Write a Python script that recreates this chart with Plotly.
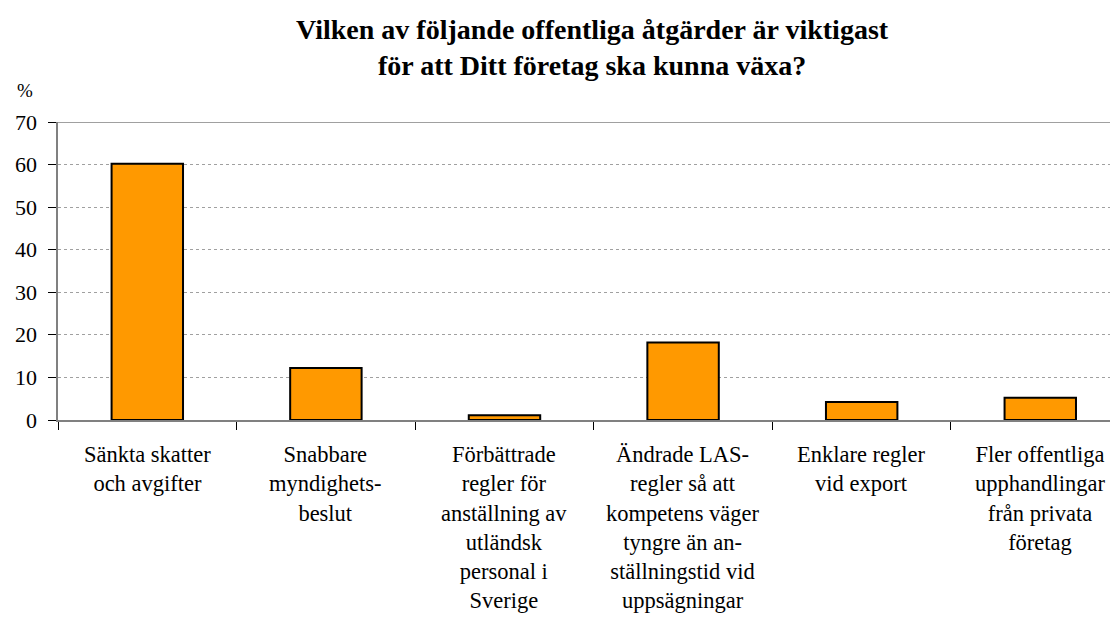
import plotly.graph_objects as go

categories = ["Sänkta skatter", "Snabbare beslut", "Förbättrade regler", "Ändrade LAS-regler", "Enklare exportregler", "Fler upphandlingar"]
tick_labels = [
    "Sänkta skatter<br>och avgifter",
    "Snabbare<br>myndighets-<br>beslut",
    "Förbättrade<br>regler för<br>anställning av<br>utländsk<br>personal i<br>Sverige",
    "Ändrade LAS-<br>regler så att<br>kompetens väger<br>tyngre än an-<br>ställningstid vid<br>uppsägningar",
    "Enklare regler<br>vid export",
    "Fler offentliga<br>upphandlingar<br>från privata<br>företag",
]
values = [60.2, 12.2, 1.1, 18.2, 4.2, 5.2]
y_ticks = [0, 10, 20, 30, 40, 50, 60, 70]
title_text = "<b>Vilken av följande offentliga åtgärder är viktigast<br>för att Ditt företag ska kunna växa?</b>"
unit_text = "%"

FONT = "Liberation Serif"

fig = go.Figure()
fig.add_trace(go.Bar(
    x=categories, y=values, width=0.4,
    marker=dict(color="#FF9900", line=dict(color="black", width=2)),
    hoverinfo="x+y",
))

annotations = []
annotations.append(dict(
    text=title_text, xref="paper", yref="paper", x=0.5, y=1.25,
    xanchor="center", yanchor="middle", showarrow=False, align="center",
    font=dict(family=FONT, size=28, color="black"),
))
annotations.append(dict(
    text=unit_text, xref="paper", yref="paper", x=-0.04, y=1.065,
    xanchor="left", yanchor="bottom", showarrow=False,
    font=dict(family=FONT, size=19, color="black"),
))
for v in y_ticks:
    annotations.append(dict(
        text=str(v), x=0, y=v, xref="paper", yref="y",
        xanchor="right", yanchor="middle", xshift=-19, showarrow=False,
        font=dict(family=FONT, size=22, color="black"),
    ))
for cat, lab in zip(categories, tick_labels):
    annotations.append(dict(
        text=lab, x=cat, y=0, xref="x", yref="y",
        xanchor="center", yanchor="top", yshift=-20, showarrow=False, align="center",
        font=dict(family=FONT, size=22.5, color="black"),
    ))

fig.update_layout(
    width=1118, height=630,
    margin=dict(l=50, r=0, t=114, b=218, autoexpand=False),
    paper_bgcolor="white", plot_bgcolor="white",
    font=dict(family=FONT, color="black"),
    showlegend=False,
    annotations=annotations,
    shapes=[dict(type="line", xref="paper", yref="y", x0=0, x1=1, y0=70, y1=70,
                 line=dict(color="#808080", width=1.5))],
)

fig.update_xaxes(
    range=[-0.5, 5.48], automargin=False,
    tickmode="array", tickvals=categories, showticklabels=False,
    tickson="boundaries", ticks="outside", ticklen=8, tickcolor="black", tickwidth=1,
    showline=True, linecolor="#808080", linewidth=2,
    showgrid=False, zeroline=False,
)
fig.update_yaxes(
    range=[0, 70], automargin=False,
    tickmode="array", tickvals=y_ticks, showticklabels=False,
    ticks="outside", ticklen=8, tickcolor="black",
    showline=True, linecolor="#808080", linewidth=2,
    showgrid=True, gridcolor="#A0A0A0", griddash="dot", gridwidth=1,
    zeroline=False,
)

fig.write_html("out.html")
